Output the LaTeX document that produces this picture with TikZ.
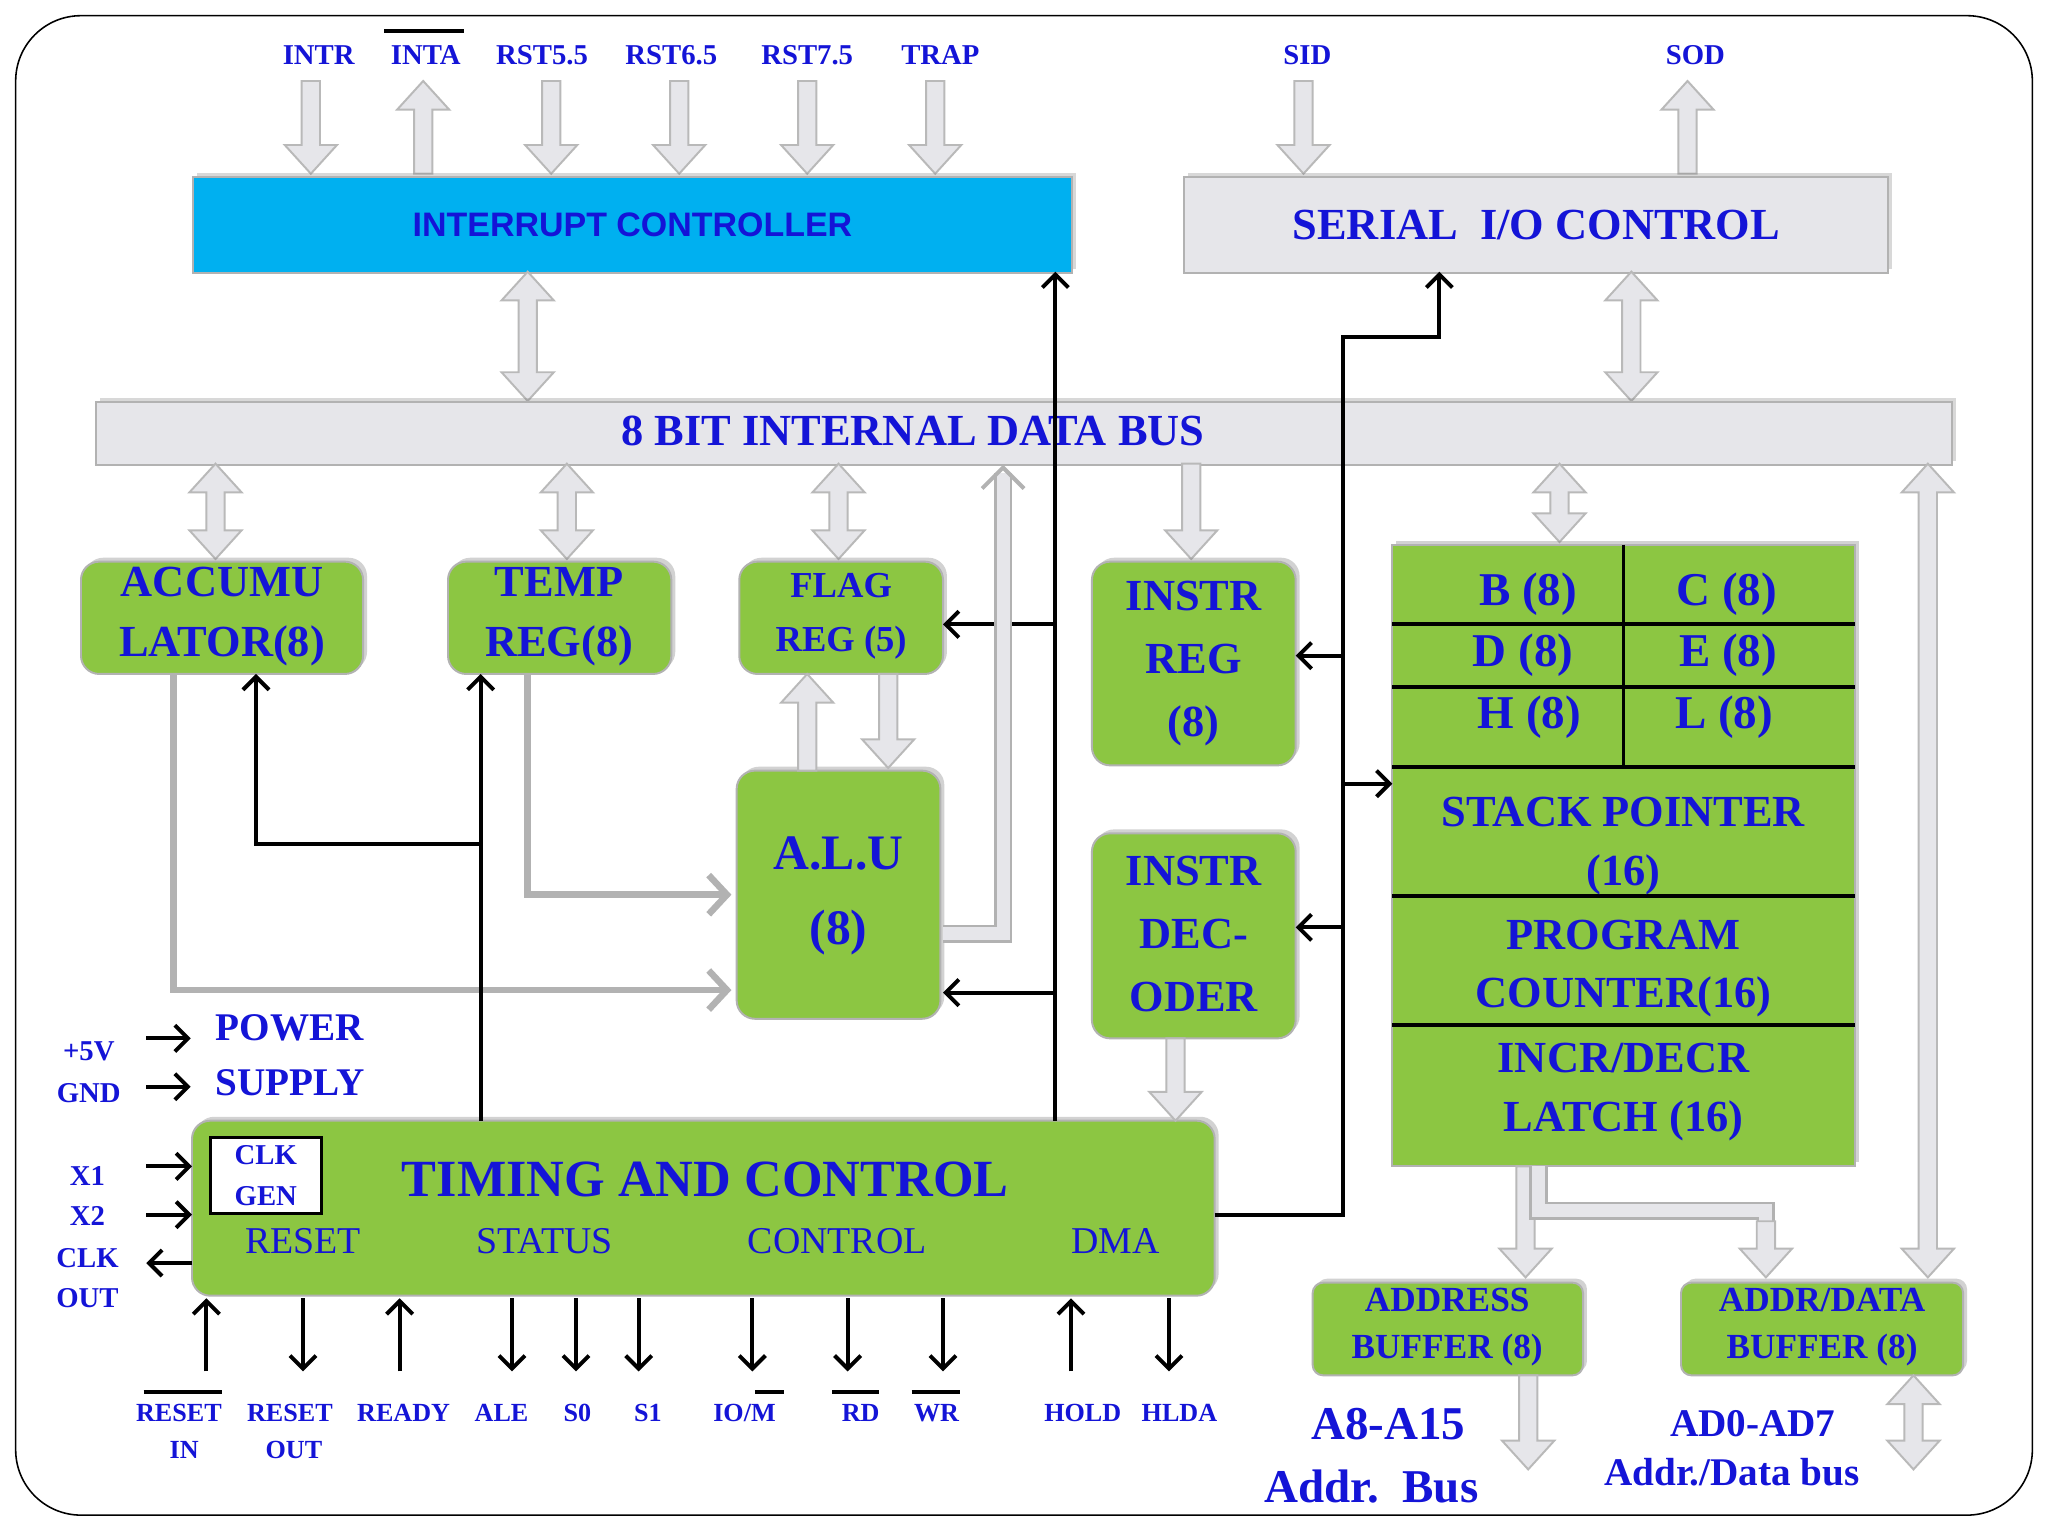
\documentclass[tikz,border=0pt]{standalone}
\usepackage{fontspec}
\setmainfont{Liberation Serif}
\newfontfamily\sansf{Liberation Sans}
\usetikzlibrary{arrows.meta,shadows}
\definecolor{tb}{RGB}{20,20,215}
\definecolor{gr}{RGB}{140,198,66}
\definecolor{cy}{RGB}{0,176,240}
\definecolor{lg}{RGB}{230,230,234}
\newcommand\fs[1]{\fontsize{#1}{\the\numexpr#1*5/4\relax}\selectfont}
\tikzset{
 lbl/.style={text=tb,font=\bfseries\fs{22}},
 gbox/.style={draw=gray!60,line width=1.5,fill=gr,rounded corners=14,drop shadow={shadow xshift=3,shadow yshift=-3,opacity=.35}},
 sbox/.style={draw=gray!60,line width=1.5,fill=gr},
 gtxt/.style={text=tb,font=\bfseries\fs{34},align=center,inner sep=0},
 garr/.style={draw=gray!55,fill=lg,line width=1.5},
 gline/.style={draw=gray!60,line width=5,-{Straight Barb[length=14,width=30]}},
 dline/.style={draw=gray!60,double=lg,line width=2,double distance=10},
 bl/.style={draw=black,line width=3},
 ba/.style={bl,-{Straight Barb[length=10,width=20]}},
}
\newcommand\gvd[3]{\filldraw[garr] ({#1-7},#2) -- ({#1+7},#2) -- ({#1+7},{#3-22}) -- ({#1+20},{#3-22}) -- (#1,#3) -- ({#1-20},{#3-22}) -- ({#1-7},{#3-22}) -- cycle;}
\newcommand\gvu[3]{\filldraw[garr] ({#1-7},#3) -- ({#1+7},#3) -- ({#1+7},{#2+22}) -- ({#1+20},{#2+22}) -- (#1,#2) -- ({#1-20},{#2+22}) -- ({#1-7},{#2+22}) -- cycle;}
\newcommand\gvb[3]{\filldraw[garr] ({#1-7},{#2+22}) -- ({#1-20},{#2+22}) -- (#1,#2) -- ({#1+20},{#2+22}) -- ({#1+7},{#2+22}) -- ({#1+7},{#3-22}) -- ({#1+20},{#3-22}) -- (#1,#3) -- ({#1-20},{#3-22}) -- ({#1-7},{#3-22}) -- cycle;}
\begin{document}
\begin{tikzpicture}[x=1pt,y=-1pt]
\useasboundingbox (0,0) rectangle (1568,1176);
\fill[white] (0,0) rectangle (1568,1176);
\draw[black,line width=1.2,rounded corners=50] (12,12) rectangle (1556,1160);
% top labels
\foreach \x/\t in {244/INTR,326/INTA,415/RST5.5,514/RST6.5,618/RST7.5,720/TRAP,1001/SID,1298/SOD}
  \node[lbl] at (\x,42) {\t};
\draw[line width=3] (294,24) -- (355,24);
\gvd{238}{62}{133}\gvu{324}{62}{133}\gvd{422}{62}{133}\gvd{520}{62}{133}\gvd{618}{62}{133}\gvd{716}{62}{133}
\gvd{998}{62}{133}\gvu{1292}{62}{133}
% controllers
\node[draw=gray!60,line width=1.5,fill=cy,minimum width=673,minimum height=73,anchor=north west,drop shadow={shadow xshift=3,shadow yshift=-3,opacity=.3},text=tb,font=\sansf\bfseries\fs{26}] (ic) at (147,135) {INTERRUPT CONTROLLER};
\node[draw=gray!60,line width=1.5,fill=lg,minimum width=539,minimum height=73,anchor=north west,drop shadow={shadow xshift=3,shadow yshift=-3,opacity=.3},text=tb,font=\bfseries\fs{34}] (sio) at (906,135) {SERIAL\ \ I/O CONTROL};
\gvb{404}{208}{307}\gvb{1249}{208}{307}
\node[draw=gray!60,line width=1.5,fill=lg,minimum width=1421,minimum height=48,anchor=north west,drop shadow={shadow xshift=3,shadow yshift=-3,opacity=.3}] (bus) at (73,307) {};
\node[text=tb,font=\bfseries\fs{34}] (bust) at (699,330) {8 BIT INTERNAL DATA BUS};
\gvb{165}{355}{428}\gvb{434}{355}{428}\gvb{642}{355}{428}\gvd{912}{355}{428}\gvb{1194}{355}{415}\gvb{1476}{355}{978}
% boxes
\filldraw[gbox] (62,430) rectangle (278,516); \node[gtxt] (acc) at (170,472) {ACCUMU\\[3pt]LATOR(8)};
\filldraw[gbox] (343,430) rectangle (514,516); \node[gtxt] (tmp) at (428,472) {TEMP\\[3pt]REG(8)};
\filldraw[gbox] (566,430) rectangle (722,516); \node[gtxt,font=\bfseries\fs{28}] (flg) at (644,472) {FLAG\\[6pt]REG (5)};
\filldraw[gbox] (836,430) rectangle (992,586); \node[gtxt] (ir) at (914,508) {INSTR\\[5pt]REG\\[5pt](8)};
\filldraw[gbox] (836,638) rectangle (992,795); \node[gtxt] (id) at (914,715) {INSTR\\[5pt]DEC-\\[5pt]ODER};
\filldraw[gbox] (564,590) rectangle (720,780); \node[gtxt,font=\bfseries\fs{38}] (alu) at (642,686) {A.L.U\\[10pt](8)};
\filldraw[gbox] (147,858) rectangle (930,992);
\node[gtxt,font=\bfseries\fs{40}] (tc) at (540,903) {TIMING AND CONTROL};
\foreach \x/\t in {232/RESET,417/STATUS,641/CONTROL,854/DMA}
  \node[text=tb,font=\fs{29}] at (\x,950) {\t};
\node[draw=black,line width=2,fill=white,minimum width=85,minimum height=58,anchor=north west,text=tb,font=\bfseries\fs{22},align=center,inner sep=0] (clk) at (160,870) {CLK\\[4pt]GEN};
% register array
\filldraw[sbox,drop shadow={shadow xshift=3,shadow yshift=-3,opacity=.35}] (1066,417) rectangle (1420,893);
\draw[line width=3] (1243,417) -- (1243,587);
\foreach \y in {478,526,587,686,785} \draw[line width=3] (1066,\y) -- (1420,\y);
\foreach \x/\y/\t in {1170/455/B (8),1322/455/C (8),1166/502/D (8),1323/502/E (8),1171/549/H (8),1320/549/L (8)}
  \node[gtxt,font=\bfseries\fs{36}] at (\x,\y) {\t};
\foreach \y/\t in {622/STACK POINTER,670/(16),716/PROGRAM,763/COUNTER(16),810/{INCR/DECR},858/LATCH (16)}
  \node[gtxt,font=\bfseries\fs{34}] at (1243,\y) {\t};
% buffers
\filldraw[gbox,rounded corners=8] (1005,982) rectangle (1212,1053); \node[gtxt,font=\bfseries\fs{27}] (ab) at (1108,1016) {ADDRESS\\[2pt]BUFFER (8)};
\filldraw[gbox,rounded corners=8] (1287,982) rectangle (1503,1053); \node[gtxt,font=\bfseries\fs{27}] (adb) at (1395,1016) {ADDR/DATA\\[2pt]BUFFER (8)};
\gvd{1168}{893}{978}
\draw[dline] (1178,893) -- (1178,927) -- (1352,927) -- (1352,950);
\gvd{1352}{935}{978}
\gvd{1170}{1053}{1125}\gvb{1465}{1053}{1125}
\node[gtxt,font=\bfseries\fs{36}] at (1063,1090) {A8-A15};
\node[gtxt,font=\bfseries\fs{36}] at (1050,1138) {Addr.\ \ Bus};
\node[gtxt,font=\bfseries\fs{30}] at (1342,1090) {AD0-AD7};
\node[gtxt,font=\bfseries\fs{30}] at (1326,1127) {Addr./Data bus};
% gray internal paths
\draw[gline] (404,516) -- (404,685) -- (560,685);
\draw[gline] (133,516) -- (133,758) -- (560,758);
\gvu{618}{516}{590}\gvd{680}{516}{588}
\gvd{900}{795}{858}
% black control lines
\draw[ba] (808,858) -- (808,208);
\draw[ba] (808,478) -- (722,478);
\draw[ba] (808,760) -- (722,760);
\draw[ba] (368,858) -- (368,516);
\draw[ba] (368,646) -- (196,646) -- (196,516);
\draw[ba] (930,930) -- (1028,930) -- (1028,258) -- (1102,258) -- (1102,208);
\draw[ba] (1028,502) -- (992,502);
\draw[ba] (1028,710) -- (992,710);
\draw[ba] (1028,600) -- (1066,600);
\draw[dline] (722,715) -- (768,715) -- (768,362);
\draw[gray!60,line width=3] (752,374) -- (768,358) -- (784,374);
% left side
\node[lbl] at (68,805) {+5V}; \node[lbl] at (68,837) {GND};
\draw[ba] (112,795) -- (146,795); \draw[ba] (112,832) -- (146,832);
\node[lbl,font=\bfseries\fs{30}] at (222,787) {POWER};
\node[lbl,font=\bfseries\fs{30}] at (222,829) {SUPPLY};
\node[lbl] at (67,900) {X1}; \node[lbl] at (67,931) {X2};
\node[lbl] at (67,963) {CLK}; \node[lbl] at (67,994) {OUT};
\draw[ba] (112,893) -- (147,893); \draw[ba] (112,930) -- (147,930);
\draw[ba] (147,967) -- (112,967);
% bottom pins
\foreach \x in {158,306,820} \draw[ba] (\x,1050) -- (\x,994);
\foreach \x in {232,392,441,489,576,649,722,895} \draw[ba] (\x,994) -- (\x,1050);
\foreach \x/\t in {137/RESET,222/RESET,309/READY,384/ALE,442/S0,496/S1,570/{IO/M},659/RD,717/WR,829/HOLD,903/HLDA}
  \node[lbl,font=\bfseries\fs{20}] at (\x,1082) {\t};
\node[lbl,font=\bfseries\fs{20}] at (141,1110) {IN};
\node[lbl,font=\bfseries\fs{20}] at (225,1110) {OUT};
\foreach \a/\b in {110/170,578/600,637/673,698/735} \draw[line width=3] (\a,1066) -- (\b,1066);
\end{tikzpicture}
\end{document}
